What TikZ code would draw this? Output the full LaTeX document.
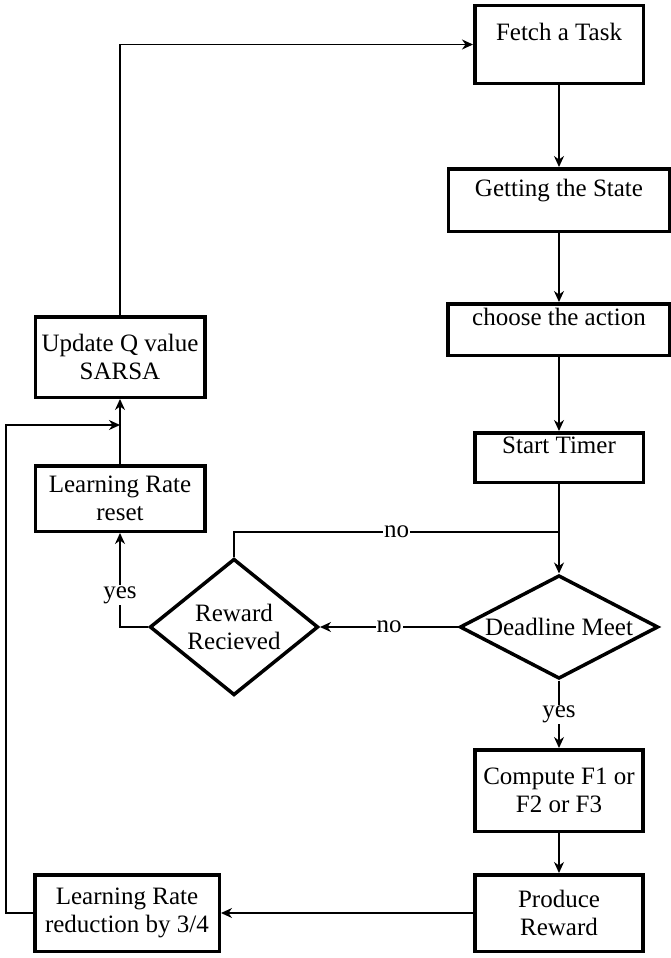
\documentclass[tikz,border=0pt]{standalone}
\usepackage{fontspec}
\setmainfont{Liberation Serif}
\usetikzlibrary{positioning,shapes.geometric,arrows.meta}

\begin{document}
\begin{tikzpicture}[
  x=1pt, y=-1pt,
  font=\fontsize{25}{28}\selectfont,
  stepbox/.style={rectangle, draw, line width=3.5pt, align=center, inner sep=0pt},
  decision/.style={diamond, draw, line width=3.5pt, align=center, inner sep=0pt},
  flow/.style={line width=1.3pt, -{Stealth[length=11pt,width=10pt,inset=3.5pt]}},
  link/.style={line width=1.3pt},
  lbl/.style={fill=white, inner sep=1pt}
]
\useasboundingbox (0,0) rectangle (671,958);

% Main column
\node[stepbox, minimum width=168.5pt, text height=34.5pt, text depth=43pt] (fetch) at (559,44.5) {Fetch a Task};
\node[stepbox, below of=fetch, node distance=155.5pt, minimum width=221.5pt, text height=27.5pt, text depth=35pt] (state) {Getting the State};
\node[stepbox, below of=state, node distance=129.5pt, minimum width=222pt, text height=21.5pt, text depth=30pt] (action) {choose the action};
\node[stepbox, below of=action, node distance=128pt, minimum width=168.5pt, text height=20.5pt, text depth=29pt] (timer) {Start Timer};
\node[decision, aspect=2, below of=timer, node distance=169.5pt, minimum width=198.5pt, minimum height=103.5pt] (deadline) {Deadline Meet};
\node[stepbox, below of=deadline, node distance=163.5pt, minimum width=168pt, minimum height=81.5pt] (compute) {Compute F1 or\\F2 or F3};
\node[stepbox, below of=compute, node distance=122.5pt, minimum width=168pt, minimum height=76.5pt] (produce) {Produce\\Reward};

% Left column
\node[stepbox, left of=produce, node distance=432pt, minimum width=184.5pt, minimum height=76.5pt] (reduce) {Learning Rate\\reduction by 3/4};
\node[decision, aspect=1.25, left of=deadline, node distance=325pt, minimum width=168.5pt, minimum height=136.5pt] (reward) {Reward\\Recieved};
\node[stepbox, minimum width=169.5pt, minimum height=65.5pt] (reset) at (120,498.5) {Learning Rate\\reset};
\node[stepbox, above of=reset, node distance=141.5pt, minimum width=169.5pt, minimum height=80.5pt] (update) {Update Q value\\SARSA};

% Arrows
\draw[flow] (fetch) -- (state);
\draw[flow] (state) -- (action);
\draw[flow] (action) -- (timer);
\draw[flow] (timer) -- (deadline);
\draw[flow] (deadline) -- node[lbl]{yes} (compute);
\draw[flow] (compute) -- (produce);
\draw[flow] (produce) -- (reduce);
\draw[flow] (deadline) -- node[lbl]{no} (reward);
\coordinate (merge) at (559,532);
\draw[link] (reward.north) |- node[lbl, pos=0.75]{no} (merge);
\draw[flow] (reward.west) -| node[lbl, pos=0.67]{yes} (reset.south);
\draw[flow] (reset) -- (update);
\coordinate (loopin) at (120,425);
\draw[flow] (reduce.west) -- ++(-27,0) |- (loopin);
\draw[flow] (update.north) |- (fetch.west);
\end{tikzpicture}
\end{document}
